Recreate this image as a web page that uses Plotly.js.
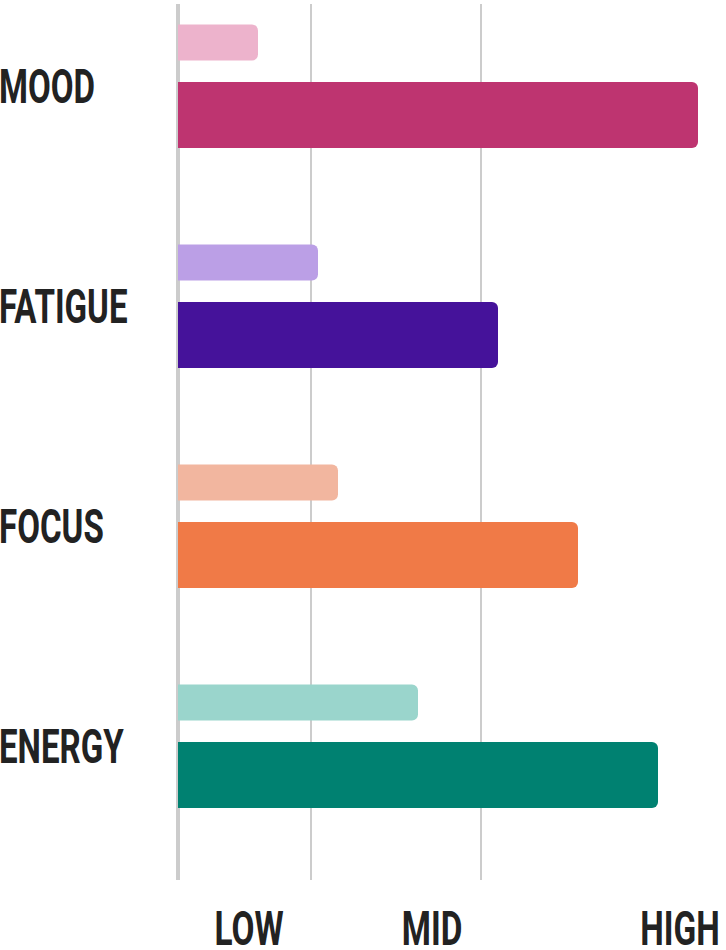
<!DOCTYPE html>
<html>
<head>
<meta charset="utf-8">
<script src="https://cdn.plot.ly/plotly-3.0.1.min.js"></script>
<style>
  html, body { margin: 0; padding: 0; background: #ffffff; }
  #chart { width: 726px; height: 950px; }
</style>
</head>
<body>
<div id="chart"></div>
<script>
// ---- data ----
const categories = ['MOOD', 'FATIGUE', 'FOCUS', 'ENERGY'];
const baselineValues = [4, 7, 8, 12];
const currentValues = [26, 16, 20, 24];
const lightColors = ['#EDB3CC', '#BB9FE6', '#F2B69F', '#9AD5CC'];
const darkColors = ['#BE3470', '#45129A', '#F07A47', '#008171'];
const gridValues = [6.65, 15.15, 27.15];
const tickLabels = ['LOW', 'MID', 'HIGH'];
const tickPositions = [3.55, 12.7, 25.1];

const FONT = 'Roboto, "DejaVu Sans", sans-serif';
const SQUEEZE_Y = 0.675; // emulate a condensed display face
const SQUEEZE_X = 0.68;

const traces = [
  {
    type: 'bar', orientation: 'h',
    y: categories, x: baselineValues,
    offset: -0.2807, width: 0.1636,
    marker: { color: lightColors, cornerradius: 6, line: { width: 0 } },
    hoverinfo: 'skip'
  },
  {
    type: 'bar', orientation: 'h',
    y: categories, x: currentValues,
    offset: -0.0193, width: 0.3,
    marker: { color: darkColors, cornerradius: 6, line: { width: 0 } },
    hoverinfo: 'skip'
  }
];

const annotations = categories.map(c => ({
  xref: 'paper', yref: 'y',
  x: -0.3223, y: c,
  xanchor: 'left', yanchor: 'middle',
  text: c, showarrow: false,
  font: { family: FONT, size: 49, color: '#222222', weight: 700 }
}));

const layout = {
  width: 726, height: 950,
  margin: { l: 176, r: 4, t: 4, b: 70, pad: 0 },
  paper_bgcolor: '#ffffff', plot_bgcolor: '#ffffff',
  barmode: 'overlay',
  showlegend: false,
  xaxis: {
    range: [-0.1, 27.2],
    tickmode: 'array',
    tickvals: tickPositions,
    ticktext: tickLabels,
    showgrid: false,
    ticks: 'outside', ticklen: 5, tickcolor: 'rgba(0,0,0,0)',
    ticklabeloverflow: 'allow',
    tickfont: { family: FONT, size: 49, color: '#222222', weight: 700 },
    minor: {
      tickmode: 'array',
      tickvals: gridValues,
      showgrid: true, gridcolor: '#cccccc', gridwidth: 2,
      ticks: ''
    },
    zeroline: true, zerolinecolor: '#cccccc', zerolinewidth: 4,
    showline: false,
    fixedrange: true
  },
  yaxis: {
    type: 'category',
    categoryorder: 'array', categoryarray: categories,
    range: [3.608, -0.374],
    showticklabels: false,
    showgrid: false, zeroline: false, showline: false, ticks: '',
    fixedrange: true
  },
  annotations: annotations
};

function squeeze(el, k, mode) {
  const before = el.getBoundingClientRect();
  const w = el.getComputedTextLength();
  el.setAttribute('textLength', (w * k).toFixed(2));
  el.setAttribute('lengthAdjust', 'spacingAndGlyphs');
  const after = el.getBoundingClientRect();
  let dx;
  if (mode === 'left') dx = -1 - after.left;
  else dx = (before.left + before.width / 2) - (after.left + after.width / 2);
  const x0 = parseFloat(el.getAttribute('x') || '0');
  el.setAttribute('x', (x0 + dx).toFixed(2));
  el.querySelectorAll('tspan[x]').forEach(t => {
    t.setAttribute('x', (parseFloat(t.getAttribute('x')) + dx).toFixed(2));
  });
}

Plotly.newPlot('chart', traces, layout, { displayModeBar: false, staticPlot: true })
  .then(() => {
    document.querySelectorAll('#chart .annotation-text').forEach(el => squeeze(el, SQUEEZE_Y, 'left'));
    document.querySelectorAll('#chart .xtick text').forEach(el => squeeze(el, SQUEEZE_X, 'center'));
  });
</script>
</body>
</html>
